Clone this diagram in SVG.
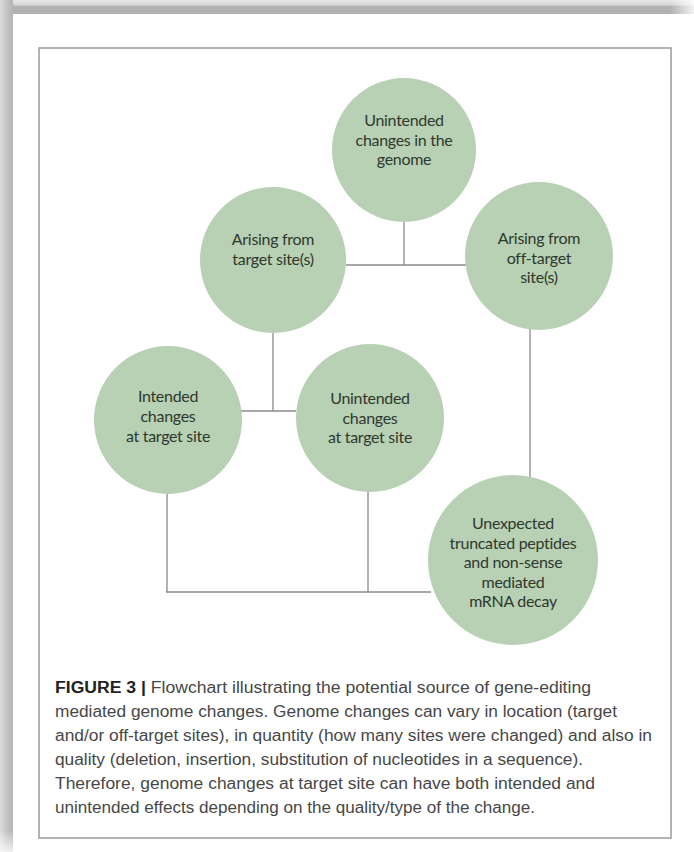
<svg xmlns="http://www.w3.org/2000/svg" width="694" height="852" viewBox="0 0 694 852">
<defs>
<linearGradient id="topband" x1="0" y1="0" x2="0" y2="1">
<stop offset="0" stop-color="#e8e8e8"/>
<stop offset="0.35" stop-color="#d6d6d6"/>
<stop offset="0.45" stop-color="#b4b4b4"/>
<stop offset="1" stop-color="#b0b0b0"/>
</linearGradient>
<linearGradient id="leftband" x1="0" y1="0" x2="1" y2="0">
<stop offset="0" stop-color="#dcdcdc"/>
<stop offset="0.5" stop-color="#c4c4c4"/>
<stop offset="1" stop-color="#b4b4b4"/>
</linearGradient>
<linearGradient id="rightfade" x1="0" y1="0" x2="1" y2="0">
<stop offset="0" stop-color="#ffffff" stop-opacity="0"/>
<stop offset="1" stop-color="#ffffff" stop-opacity="0.85"/>
</linearGradient>
<linearGradient id="bottomfade" x1="0" y1="0" x2="0" y2="1">
<stop offset="0" stop-color="#ffffff" stop-opacity="0"/>
<stop offset="1" stop-color="#ffffff" stop-opacity="0.8"/>
</linearGradient>
</defs>
<style>
.node circle { fill: #b8d1b4; }
.node text { font-family: Lato, "Open Sans", "Liberation Sans", sans-serif; font-size: 16px; fill: #2e382e; text-anchor: middle; letter-spacing: -0.3px; }
.conn line { stroke: #8a8a8a; stroke-width: 1.3; }
.cap { font-family: "Liberation Sans", Arial, sans-serif; font-size: 16px; fill: #474747; }
.cap .b { font-weight: bold; fill: #222; }
</style>
<rect x="0" y="0" width="694" height="852" fill="#ffffff"/>
<rect x="0" y="0" width="694" height="14" fill="url(#topband)"/>
<rect x="0" y="0" width="13" height="852" fill="url(#leftband)"/>
<rect x="670" y="0" width="24" height="14" fill="url(#rightfade)"/>
<rect x="0" y="830" width="13" height="22" fill="url(#bottomfade)"/>
<rect x="39" y="48" width="632" height="790" fill="#ffffff" stroke="#9a9a9a" stroke-width="1.5"/>

<g id="connectors" class="conn">
<line x1="404" y1="222" x2="404" y2="265"/>
<line x1="346" y1="265" x2="466" y2="265"/>
<line x1="273" y1="332" x2="273" y2="411"/>
<line x1="241" y1="411" x2="296" y2="411"/>
<line x1="530" y1="329" x2="530" y2="477"/>
<line x1="167" y1="493" x2="167" y2="592"/>
<line x1="368" y1="491" x2="368" y2="592"/>
<line x1="166" y1="592" x2="431" y2="592"/>
</g>

<g id="n-genome" class="node">
<circle cx="404" cy="150" r="72"/>
<text x="404" y="126">Unintended</text>
<text x="404" y="145.5">changes in the</text>
<text x="404" y="165">genome</text>
</g>
<g id="n-target" class="node">
<circle cx="273" cy="260" r="73"/>
<text x="273" y="245">Arising from</text>
<text x="273" y="264.5">target site(s)</text>
</g>
<g id="n-offtarget" class="node">
<circle cx="539" cy="256" r="74"/>
<text x="539" y="244">Arising from</text>
<text x="539" y="263.5">off-target</text>
<text x="539" y="283">site(s)</text>
</g>
<g id="n-intended" class="node">
<circle cx="168" cy="420" r="74"/>
<text x="168" y="402">Intended</text>
<text x="168" y="421.5">changes</text>
<text x="168" y="442">at target site</text>
</g>
<g id="n-unintended" class="node">
<circle cx="370" cy="418" r="74"/>
<text x="370" y="404">Unintended</text>
<text x="370" y="423.5">changes</text>
<text x="370" y="443">at target site</text>
</g>
<g id="n-unexpected" class="node">
<circle cx="513" cy="560" r="85"/>
<text x="513" y="529">Unexpected</text>
<text x="513" y="548.5">truncated peptides</text>
<text x="513" y="568">and non-sense</text>
<text x="513" y="587.5">mediated</text>
<text x="513" y="607">mRNA decay</text>
</g>

<g id="caption" class="cap">
<text x="55" y="693" textLength="536" lengthAdjust="spacingAndGlyphs"><tspan class="b">FIGURE 3 |</tspan> Flowchart illustrating the potential source of gene-editing</text>
<text x="55" y="717" textLength="562" lengthAdjust="spacingAndGlyphs">mediated genome changes. Genome changes can vary in location (target</text>
<text x="55" y="741" textLength="597" lengthAdjust="spacingAndGlyphs">and/or off-target sites), in quantity (how many sites were changed) and also in</text>
<text x="55" y="765" textLength="528" lengthAdjust="spacingAndGlyphs">quality (deletion, insertion, substitution of nucleotides in a sequence).</text>
<text x="55" y="789" textLength="540" lengthAdjust="spacingAndGlyphs">Therefore, genome changes at target site can have both intended and</text>
<text x="55" y="813" textLength="480" lengthAdjust="spacingAndGlyphs">unintended effects depending on the quality/type of the change.</text>
</g>
</svg>
